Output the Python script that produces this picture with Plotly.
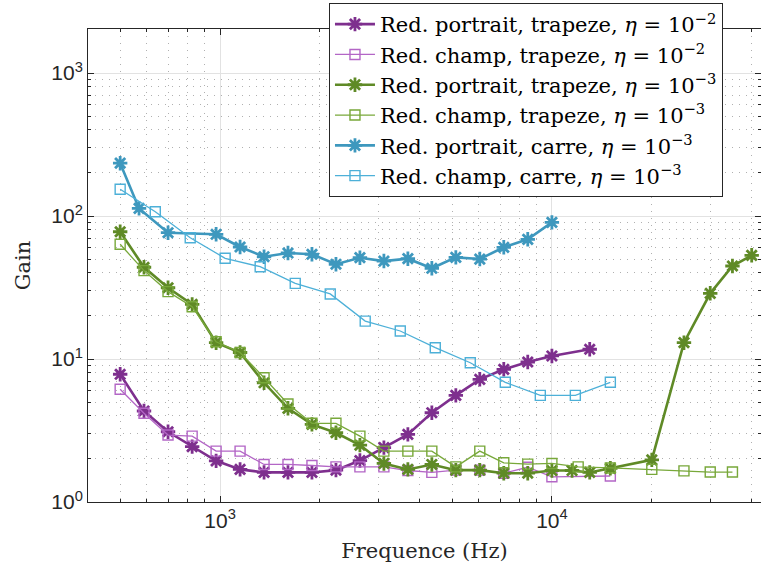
import math
import plotly.graph_objects as go

# ---- data ----
freq_portrait_trap_e2 = [500, 590, 697, 824, 973, 1149, 1357, 1602, 1892, 2235, 2639, 3117,
                         3681, 4347, 5134, 6063, 7161, 8457, 10000, 13000]
gain_portrait_trap_e2 = [7.82, 4.33, 3.10, 2.44, 1.94, 1.69, 1.61, 1.61, 1.61, 1.67, 1.95, 2.40,
                         2.97, 4.21, 5.57, 7.21, 8.47, 9.53, 10.5, 11.7]

freq_champ_trap_e2 = [500, 590, 697, 824, 973, 1149, 1357, 1602, 1892, 2235, 2639, 3117,
                      3681, 4347, 5134, 6063, 7161, 8457, 10000, 15000]
gain_champ_trap_e2 = [6.14, 4.17, 2.94, 2.89, 2.27, 2.27, 1.83, 1.83, 1.80, 1.76, 1.76, 1.76,
                      1.66, 1.61, 1.67, 1.67, 1.59, 1.75, 1.50, 1.52]

freq_portrait_trap_e3 = [500, 590, 697, 824, 973, 1149, 1357, 1602, 1892, 2235, 2639, 3117,
                         3681, 4347, 5134, 6063, 7161, 8457, 10000, 11500, 13000, 15000,
                         20000, 25000, 30000, 35000, 40000]
gain_portrait_trap_e3 = [77.6, 43.8, 31.5, 24.1, 13.0, 11.1, 6.82, 4.52, 3.49, 3.05, 2.50, 1.86,
                         1.69, 1.83, 1.67, 1.67, 1.59, 1.59, 1.66, 1.66, 1.61, 1.72,
                         1.97, 13.0, 28.8, 44.7, 53.1]

freq_champ_trap_e3 = [500, 590, 697, 824, 973, 1149, 1357, 1602, 1892, 2235, 2639, 3117,
                      3681, 4347, 5134, 6063, 7161, 8457, 10000, 12000, 15000, 20000,
                      25000, 30000, 35000]
gain_champ_trap_e3 = [63.4, 41.5, 29.6, 23.2, 13.2, 11.1, 7.40, 4.85, 3.55, 3.55, 2.89, 2.27,
                      2.27, 2.27, 1.76, 2.27, 1.88, 1.84, 1.86, 1.76, 1.73, 1.69,
                      1.65, 1.62, 1.62]

freq_portrait_carre_e3 = [500, 570, 697, 973, 1149, 1357, 1602, 1892, 2235, 2639, 3117, 3681,
                          4347, 5134, 6063, 7161, 8457, 10000]
gain_portrait_carre_e3 = [234, 113, 76.4, 74.5, 60.7, 51.9, 55.1, 54.0, 46.0, 51.1, 48.4, 50.3,
                          43.1, 51.4, 50.0, 60.4, 68.7, 90.3]

freq_champ_carre_e3 = [500, 638, 813, 1036, 1321, 1685, 2148, 2738, 3492, 4452, 5676, 7237,
                       9227, 11765, 15000]
gain_champ_carre_e3 = [153.7, 107, 70.5, 50.6, 44.2, 33.8, 28.5, 18.4, 15.7, 12.0, 9.42, 6.87,
                       5.57, 5.57, 6.87]

series_names = [
    "Red. portrait, trapeze, <i>η</i> = 10<sup>−2</sup>",
    "Red. champ, trapeze, <i>η</i> = 10<sup>−2</sup>",
    "Red. portrait, trapeze, <i>η</i> = 10<sup>−3</sup>",
    "Red. champ, trapeze, <i>η</i> = 10<sup>−3</sup>",
    "Red. portrait, carre, <i>η</i> = 10<sup>−3</sup>",
    "Red. champ, carre, <i>η</i> = 10<sup>−3</sup>",
]
series_colors = ["#7E2F8E", "#B366C6", "#5F8A26", "#78A83A", "#3E98BE", "#4DB0D8"]

x_tickvals = [1000, 10000]
x_ticktext = ["10<sup>3</sup>", "10<sup>4</sup>"]
y_tickvals = [1, 10, 100, 1000]
y_ticktext = ["10<sup>0</sup>", "10<sup>1</sup>", "10<sup>2</sup>", "10<sup>3</sup>"]
x_minor = [500, 600, 700, 800, 900, 2000, 3000, 4000, 5000, 6000, 7000, 8000, 9000,
           20000, 30000, 40000]
y_minor = [m * d for d in [1, 10, 100, 1000] for m in range(2, 10) if m * d <= 2000]

SERIF = "DejaVu Serif, Liberation Serif, serif"

# ---- figure ----
fig = go.Figure()
data = [
    (freq_portrait_trap_e2, gain_portrait_trap_e2, "star"),
    (freq_champ_trap_e2, gain_champ_trap_e2, "square"),
    (freq_portrait_trap_e3, gain_portrait_trap_e3, "star"),
    (freq_champ_trap_e3, gain_champ_trap_e3, "square"),
    (freq_portrait_carre_e3, gain_portrait_carre_e3, "star"),
    (freq_champ_carre_e3, gain_champ_carre_e3, "square"),
]
for (fx, gy, kind), name, col in zip(data, series_names, series_colors):
    if kind == "star":
        line = dict(color=col, width=2.6)
        marker = dict(symbol="asterisk-open", size=12, color=col, line=dict(color=col, width=2.8))
    else:
        line = dict(color=col, width=1.3)
        marker = dict(symbol="square-open", size=10, color=col, line=dict(color=col, width=1.4))
    fig.add_trace(go.Scatter(x=fx, y=gy, mode="lines+markers", name=name,
                             line=line, marker=marker, cliponaxis=True))

axis_common = dict(
    type="log", showline=True, linecolor="#262626", linewidth=1, mirror="allticks",
    ticks="inside", ticklen=6, tickwidth=1, tickcolor="#262626",
    showgrid=True, gridcolor="#E2E2E2", gridwidth=1, zeroline=False,
    tickfont=dict(family="Liberation Sans, Arial, sans-serif", size=21, color="#262626"),
    tickmode="array", automargin=False,
)

fig.update_layout(
    width=761, height=572,
    margin=dict(l=88, r=0, t=29, b=70, autoexpand=False),
    paper_bgcolor="white", plot_bgcolor="white",
    font=dict(family=SERIF, color="#262626"),
    xaxis=dict(
        **axis_common,
        range=[math.log10(400), 4.6301],
        tickvals=x_tickvals, ticktext=x_ticktext,
        minor=dict(tickmode="array", tickvals=x_minor, ticks="inside", ticklen=3,
                   tickcolor="#262626", showgrid=True, gridcolor="#B0B0B0",
                   griddash="1px,6px", gridwidth=1),
        title=dict(text="Frequence (Hz)", font=dict(family=SERIF, size=21,
                                                    color="#262626"), standoff=12),
    ),
    yaxis=dict(
        **axis_common,
        range=[0, 3.3077],
        tickvals=y_tickvals, ticktext=y_ticktext,
        minor=dict(tickmode="array", tickvals=y_minor, ticks="inside", ticklen=3,
                   tickcolor="#262626", showgrid=True, gridcolor="#B0B0B0",
                   griddash="1px,6px", gridwidth=1),
        title=dict(text="Gain", font=dict(family=SERIF, size=21,
                                          color="#262626"), standoff=14),
    ),
    legend=dict(
        x=0.9435, y=1.055, xanchor="right", yanchor="top",
        bgcolor="white", bordercolor="#262626", borderwidth=1,
        font=dict(family=SERIF, size=21, color="#000000"),
        tracegroupgap=0, itemwidth=40,
    ),
    showlegend=True,
)

fig.write_html("out.html",
               config={"displayModeBar": False},
               post_script="document.body.style.margin='0';document.body.style.padding='0';")
